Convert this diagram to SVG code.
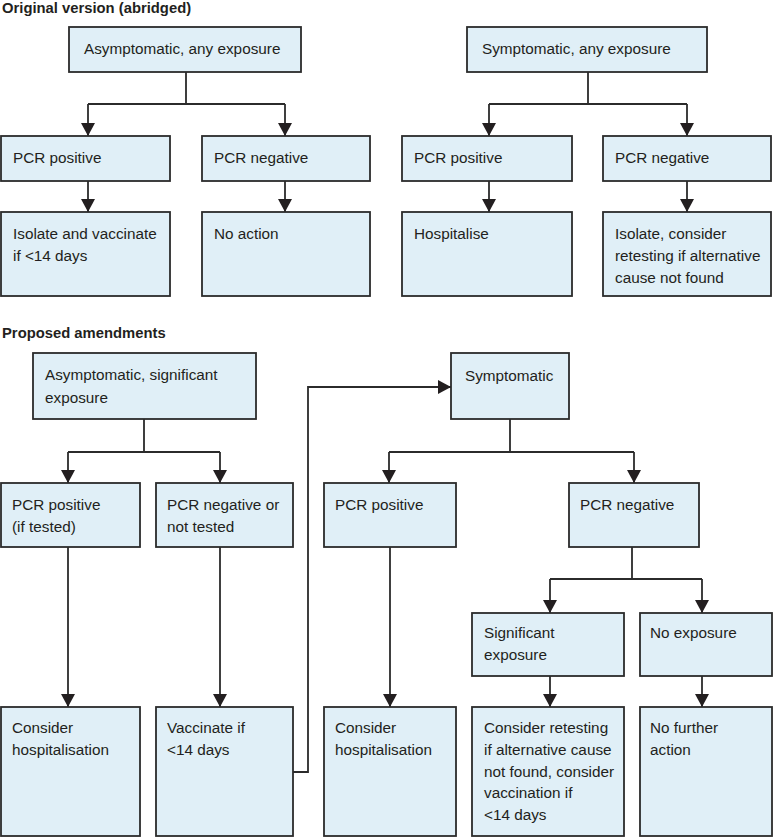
<svg xmlns="http://www.w3.org/2000/svg" width="773" height="838" viewBox="0 0 773 838">
<style>
.box{fill:#e0eff7;stroke:#2b2b2b;stroke-width:1.8}
.t{font-family:"Liberation Sans",Arial,sans-serif;font-size:15.3px;fill:#231f20}
.h{font-family:"Liberation Sans",Arial,sans-serif;font-size:14.8px;font-weight:bold;fill:#231f20}
.c{fill:none;stroke:#2b2b2b;stroke-width:1.8;marker-end:url(#ah)}
.n{fill:none;stroke:#2b2b2b;stroke-width:1.8}
</style>
<defs>
<marker id="ah" viewBox="0 0 13 14" refX="13" refY="7" markerWidth="13" markerHeight="14" markerUnits="userSpaceOnUse" orient="auto">
<path d="M0,0 L13,7 L0,14 z" fill="#231f20"/>
</marker>
</defs>
<rect width="773" height="838" fill="#fff"/>
<text class="h" x="2" y="13">Original version (abridged)</text>
<text class="h" x="2" y="338">Proposed amendments</text>

<g id="connectors">
<path class="n" d="M186,72 V104 M88,104 H285"/>
<path class="c" d="M88,104 V136"/>
<path class="c" d="M285,104 V136"/>
<path class="c" d="M88,181 V212"/>
<path class="c" d="M285,181 V212"/>
<path class="n" d="M588,72 V104 M489,104 H687"/>
<path class="c" d="M489,104 V136"/>
<path class="c" d="M687,104 V136"/>
<path class="c" d="M489,181 V212"/>
<path class="c" d="M687,181 V212"/>

<path class="n" d="M144,419 V452 M68,452 H220"/>
<path class="c" d="M68,452 V483"/>
<path class="c" d="M220,452 V483"/>
<path class="c" d="M68,547 V707"/>
<path class="c" d="M220,547 V707"/>
<path class="c" d="M293,772 H308 V387 H451"/>
<path class="n" d="M510,419 V452 M389,452 H634"/>
<path class="c" d="M389,452 V483"/>
<path class="c" d="M634,452 V483"/>
<path class="c" d="M390,547 V707"/>
<path class="n" d="M632,547 V579 M550,579 H702"/>
<path class="c" d="M550,579 V613"/>
<path class="c" d="M702,579 V613"/>
<path class="c" d="M550,676 V707"/>
<path class="c" d="M702,676 V707"/>
</g>

<g id="o_asym"><rect class="box" x="69" y="27" width="232" height="45"/><text class="t" x="84" y="54">Asymptomatic, any exposure</text></g>
<g id="o_sym"><rect class="box" x="467" y="27" width="240" height="45"/><text class="t" x="482" y="54">Symptomatic, any exposure</text></g>
<g id="o_asym_pos"><rect class="box" x="1" y="136" width="169" height="45"/><text class="t" x="13" y="163">PCR positive</text></g>
<g id="o_asym_neg"><rect class="box" x="202" y="136" width="168" height="45"/><text class="t" x="214" y="163">PCR negative</text></g>
<g id="o_sym_pos"><rect class="box" x="402" y="136" width="170" height="45"/><text class="t" x="414" y="163">PCR positive</text></g>
<g id="o_sym_neg"><rect class="box" x="603" y="136" width="168" height="45"/><text class="t" x="615" y="163">PCR negative</text></g>
<g id="o_isolate"><rect class="box" x="1" y="212" width="169" height="84"/><text class="t" x="13" y="239">Isolate and vaccinate</text><text class="t" x="13" y="261">if &lt;14 days</text></g>
<g id="o_noaction"><rect class="box" x="202" y="212" width="168" height="84"/><text class="t" x="214" y="239">No action</text></g>
<g id="o_hosp"><rect class="box" x="402" y="212" width="170" height="84"/><text class="t" x="414" y="239">Hospitalise</text></g>
<g id="o_isolate2"><rect class="box" x="603" y="212" width="168" height="84"/><text class="t" x="615" y="239">Isolate, consider</text><text class="t" x="615" y="261">retesting if alternative</text><text class="t" x="615" y="283">cause not found</text></g>

<g id="p_asym"><rect class="box" x="33" y="353" width="223" height="66"/><text class="t" x="45" y="380">Asymptomatic, significant</text><text class="t" x="45" y="403">exposure</text></g>
<g id="p_sym"><rect class="box" x="451" y="353" width="118" height="66"/><text class="t" x="465" y="381">Symptomatic</text></g>
<g id="p_asym_pos"><rect class="box" x="1" y="483" width="139" height="64"/><text class="t" x="12" y="510">PCR positive</text><text class="t" x="12" y="532">(if tested)</text></g>
<g id="p_asym_neg"><rect class="box" x="156" y="483" width="137" height="64"/><text class="t" x="167" y="510">PCR negative or</text><text class="t" x="167" y="532">not tested</text></g>
<g id="p_sym_pos"><rect class="box" x="324" y="483" width="132" height="64"/><text class="t" x="335" y="510">PCR positive</text></g>
<g id="p_sym_neg"><rect class="box" x="569" y="483" width="130" height="64"/><text class="t" x="580" y="510">PCR negative</text></g>
<g id="p_sig"><rect class="box" x="472" y="613" width="152" height="63"/><text class="t" x="484" y="638">Significant</text><text class="t" x="484" y="660">exposure</text></g>
<g id="p_noexp"><rect class="box" x="640" y="613" width="132" height="63"/><text class="t" x="650" y="638">No exposure</text></g>
<g id="p_hosp1"><rect class="box" x="1" y="707" width="139" height="129"/><text class="t" x="12" y="733">Consider</text><text class="t" x="12" y="755">hospitalisation</text></g>
<g id="p_vacc"><rect class="box" x="156" y="707" width="137" height="129"/><text class="t" x="167" y="733">Vaccinate if</text><text class="t" x="167" y="755">&lt;14 days</text></g>
<g id="p_hosp2"><rect class="box" x="324" y="707" width="132" height="129"/><text class="t" x="335" y="733">Consider</text><text class="t" x="335" y="755">hospitalisation</text></g>
<g id="p_retest"><rect class="box" x="472" y="707" width="152" height="129"/><text class="t" x="484" y="733">Consider retesting</text><text class="t" x="484" y="755">if alternative cause</text><text class="t" x="484" y="777">not found, consider</text><text class="t" x="484" y="798">vaccination if</text><text class="t" x="484" y="820">&lt;14 days</text></g>
<g id="p_nofurther"><rect class="box" x="640" y="707" width="132" height="129"/><text class="t" x="650" y="733">No further</text><text class="t" x="650" y="755">action</text></g>
</svg>
